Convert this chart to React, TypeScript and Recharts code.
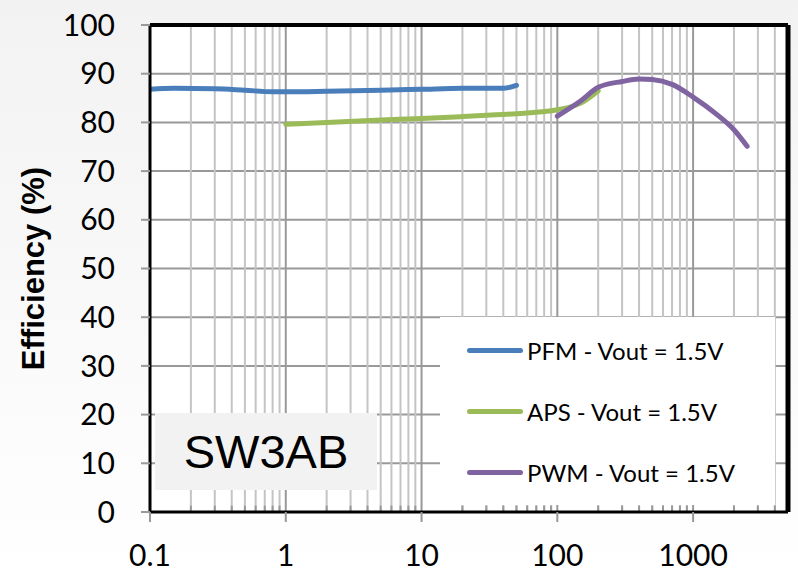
import {
  CartesianGrid,
  Label,
  Legend,
  Line,
  LineChart,
  ReferenceLine,
  XAxis,
  YAxis
} from "recharts";

// load current (mA) vs efficiency (%)
const pfm = [
  { x: 0.1, y: 86.8 },
  { x: 0.15, y: 87.0 },
  { x: 0.3, y: 86.9 },
  { x: 0.5, y: 86.6 },
  { x: 0.8, y: 86.3 },
  { x: 1, y: 86.3 },
  { x: 2, y: 86.4 },
  { x: 5, y: 86.6 },
  { x: 10, y: 86.8 },
  { x: 20, y: 87.0 },
  { x: 40, y: 87.0 },
  { x: 50, y: 87.6 }
];

const aps = [
  { x: 1, y: 79.6 },
  { x: 2, y: 80.0 },
  { x: 5, y: 80.5 },
  { x: 10, y: 80.8 },
  { x: 20, y: 81.2 },
  { x: 50, y: 81.8 },
  { x: 100, y: 82.6 },
  { x: 150, y: 84.0 },
  { x: 200, y: 86.5 }
];

const pwm = [
  { x: 100, y: 81.3 },
  { x: 150, y: 84.5 },
  { x: 200, y: 87.2 },
  { x: 300, y: 88.4 },
  { x: 400, y: 88.9 },
  { x: 500, y: 88.8 },
  { x: 700, y: 87.8 },
  { x: 1000, y: 85.2 },
  { x: 1500, y: 81.6 },
  { x: 2000, y: 78.5 },
  { x: 2500, y: 75.1 }
];

const seriesNames = ["PFM - Vout = 1.5V", "APS - Vout = 1.5V", "PWM - Vout = 1.5V"];
const xTicks = [0.1, 1, 10, 100, 1000];
const yTicks = [0, 10, 20, 30, 40, 50, 60, 70, 80, 90, 100];
const minorX = [
  0.2, 0.3, 0.4, 0.5, 0.6, 0.7, 0.8, 0.9,
  2, 3, 4, 5, 6, 7, 8, 9,
  20, 30, 40, 50, 60, 70, 80, 90,
  200, 300, 400, 500, 600, 700, 800, 900,
  2000, 3000, 4000
];

const LegendBox = ({ payload }: any) => {
  const items = [...(payload || [])].sort(
    (a: any, b: any) => seriesNames.indexOf(a.value) - seriesNames.indexOf(b.value)
  );
  return (
    <div style={{ width: 335, height: 188, background: "#fff", position: "relative" }}>
      {items.map((p: any, i: number) => (
        <div
          key={p.value}
          style={{
            position: "absolute",
            left: 27,
            top: 33 + i * 61 - 16,
            height: 32,
            display: "flex",
            alignItems: "center",
            fontFamily: "Lato",
            fontSize: 24,
            color: "#000",
            whiteSpace: "nowrap"
          }}
        >
          <span
            style={{
              display: "inline-block",
              width: 56,
              height: 5,
              borderRadius: 3,
              background: p.color,
              marginRight: 4
            }}
          />
          {p.value}
        </div>
      ))}
    </div>
  );
};

const App = () => {
  return (
    <div
      style={{
        position: "absolute",
        left: 0,
        top: 0,
        width: 798,
        height: 584,
        background: "linear-gradient(#f2f2f2, #ffffff)"
      }}
    >
      <LineChart
        width={798}
        height={584}
        margin={{ top: 25, right: 10, left: 0, bottom: 0 }}
      >
        <CartesianGrid stroke="#999" strokeWidth={2} fill="#fff" />
        {minorX.map(v => (
          <ReferenceLine key={"g" + v} x={v} stroke="#c4c4c4" strokeWidth={2} />
        ))}
        {minorX.map(v => (
          <ReferenceLine
            key={"t" + v}
            segment={[{ x: v, y: 0 }, { x: v, y: 1.3 }]}
            stroke="#999"
            strokeWidth={2}
          />
        ))}
        <XAxis
          dataKey="x"
          type="number"
          scale="log"
          domain={[0.1, 5000]}
          allowDataOverflow
          ticks={xTicks}
          height={72}
          tickSize={10}
          tickMargin={23}
          tickLine={{ stroke: "#999", strokeWidth: 2 }}
          axisLine={{ stroke: "#000", strokeWidth: 3 }}
          tick={{ fontSize: 30, fontFamily: "Lato", fill: "#000" }}
        />
        <YAxis
          type="number"
          domain={[0, 100]}
          ticks={yTicks}
          width={150}
          tickSize={9}
          tickMargin={26}
          tickLine={{ stroke: "#999", strokeWidth: 2 }}
          axisLine={{ stroke: "#000", strokeWidth: 3 }}
          tick={{ fontSize: 30, fontFamily: "Lato", fill: "#000" }}
        >
          <Label
            value="Efficiency (%)"
            angle={-90}
            position="center"
            dx={-42}
            style={{ fontSize: 31, fontWeight: "bold", fontFamily: "Liberation Sans", fill: "#000" }}
          />
        </YAxis>
        <ReferenceLine y={100} stroke="#000" strokeWidth={4} />
        <ReferenceLine x={5000} stroke="#000" strokeWidth={5} />
        <Line
          data={pfm}
          dataKey="y"
          name={seriesNames[0]}
          type="monotone"
          stroke="#4a7ebb"
          strokeWidth={5}
          strokeLinecap="round"
          dot={false}
          isAnimationActive={false}
        />
        <Line
          data={aps}
          dataKey="y"
          name={seriesNames[1]}
          type="monotone"
          stroke="#9bbb59"
          strokeWidth={5}
          strokeLinecap="round"
          dot={false}
          isAnimationActive={false}
        />
        <Line
          data={pwm}
          dataKey="y"
          name={seriesNames[2]}
          type="monotone"
          stroke="#8064a2"
          strokeWidth={5}
          strokeLinecap="round"
          dot={false}
          isAnimationActive={false}
        />
        <Legend
          layout="vertical"
          align="center"
          verticalAlign="middle"
          content={<LegendBox />}
          wrapperStyle={{ left: 440, top: 317, width: 335, height: 188 }}
        />
      </LineChart>
      <div
        style={{
          position: "absolute",
          left: 155,
          top: 413,
          width: 222,
          height: 77,
          background: "#f2f2f2",
          display: "flex",
          alignItems: "center",
          justifyContent: "center",
          fontFamily: "Liberation Sans",
          fontSize: 47,
          color: "#000"
        }}
      >
        SW3AB
      </div>
    </div>
  );
};

export default App;
